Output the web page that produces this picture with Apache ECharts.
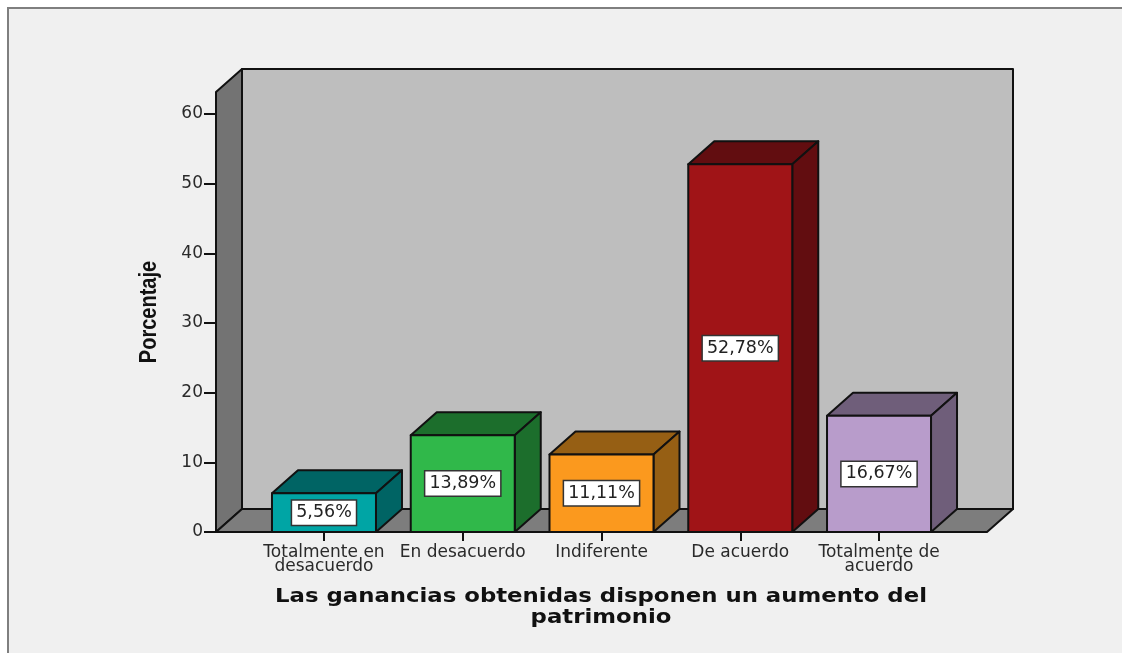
<!DOCTYPE html>
<html>
<head>
<meta charset="utf-8">
<title>Las ganancias obtenidas</title>
<style>
html, body { margin: 0; padding: 0; background: #fff; }
#chart { width: 1122px; height: 653px; }
</style>
<script src="https://cdn.jsdelivr.net/npm/echarts@6/dist/echarts.min.js"></script>
</head>
<body>
<div id="chart"></div>
<script>
const categories = ['Totalmente en\ndesacuerdo', 'En desacuerdo', 'Indiferente', 'De acuerdo', 'Totalmente de\nacuerdo']
const values = [5.56, 13.89, 11.11, 52.78, 16.67]
const frontColors = ['#00a5a5', '#30b84a', '#fb991e', '#a01417', '#b89ccb']
const darkColors = ['#006464', '#1c6e2c', '#965f14', '#620d10', '#6f5e7a']
const yTicks = [0, 10, 20, 30, 40, 50, 60]
const xTitle = 'Las ganancias obtenidas disponen un aumento del\npatrimonio'
const yTitle = 'Porcentaje'

const INK = '#111'
const DEPTH_X = 26
const DEPTH_Y = -23
const WALL_GAP = 38.6
const BAR_WIDTH = 104

function poly(points, fill) {
  return {
    type: 'polygon',
    shape: { points },
    style: { fill, stroke: INK, lineWidth: 2, lineJoin: 'round' },
  }
}

// paredes y suelo de la caja 3D
function renderWalls(params, api) {
  const band = api.size([1, 0])[0]
  const bottom = api.coord([0, 0])[1]
  const top = api.coord([0, 63.15])[1]
  const left = api.coord([0, 0])[0] - band / 2 - WALL_GAP
  const right = api.coord([4, 0])[0] + band / 2 + WALL_GAP
  const dx = DEPTH_X
  const dy = DEPTH_Y
  return {
    type: 'group',
    children: [
      poly([[left + dx, top + dy], [right + dx, top + dy], [right + dx, bottom + dy], [left + dx, bottom + dy]], '#bebebe'),
      poly([[left, bottom], [left, top], [left + dx, top + dy], [left + dx, bottom + dy]], '#737373'),
      poly([[left, bottom], [left + dx, bottom + dy], [right + dx, bottom + dy], [right, bottom]], '#7d7d7d'),
    ],
  }
}

function renderBar(params, api) {
  const i = api.value(0)
  const v = api.value(1)
  const [cx, y1] = api.coord([i, v])
  const y0 = api.coord([i, 0])[1]
  const x0 = cx - BAR_WIDTH / 2
  const x1 = cx + BAR_WIDTH / 2
  const dx = DEPTH_X
  const dy = DEPTH_Y
  return {
    type: 'group',
    children: [
      poly([[x0, y1], [x0 + dx, y1 + dy], [x1 + dx, y1 + dy], [x1, y1]], darkColors[i]),
      poly([[x1, y1], [x1 + dx, y1 + dy], [x1 + dx, y0 + dy], [x1, y0]], darkColors[i]),
      poly([[x0, y1], [x1, y1], [x1, y0], [x0, y0]], frontColors[i]),
      {
        type: 'text',
        style: {
          x: cx,
          y: (y0 + y1) / 2,
          text: v.toFixed(2).replace('.', ',') + '%',
          align: 'center',
          verticalAlign: 'middle',
          fontFamily: 'DejaVu Sans',
          fontSize: 17.5,
          fill: '#222',
          backgroundColor: '#fff',
          borderColor: '#333',
          borderWidth: 1.5,
          padding: [3, 4, 3, 4],
        },
      },
    ],
  }
}

const chart = echarts.init(document.getElementById('chart'))
chart.setOption({
  animation: false,
  backgroundColor: '#fff',
  graphic: [
    {
      type: 'rect',
      z: -10,
      shape: { x: 8, y: 8, width: 1300, height: 800 },
      style: { fill: '#f0f0f0', stroke: '#7f7f7f', lineWidth: 2 },
    },
    {
      // el original tiene el texto estirado a lo ancho
      type: 'text',
      x: 601,
      y: 608,
      scaleX: 1.2,
      style: {
        text: xTitle,
        align: 'center',
        verticalAlign: 'middle',
        fontFamily: 'DejaVu Sans',
        fontWeight: 'bold',
        fontSize: 19,
        lineHeight: 21,
        fill: '#111',
      },
    },
    {
      type: 'text',
      x: 150,
      y: 312,
      rotation: Math.PI / 2,
      scaleX: 0.87,
      style: {
        text: yTitle,
        align: 'center',
        verticalAlign: 'middle',
        fontFamily: 'Liberation Sans',
        fontWeight: 'bold',
        fontSize: 23,
        fill: '#111',
      },
    },
  ],
  grid: { left: 254.6, right: 173.6, top: 92, bottom: 121 },
  xAxis: {
    type: 'category',
    data: categories,
    axisLine: { show: false },
    axisTick: { show: true, alignWithLabel: true, length: 9, lineStyle: { color: INK, width: 2 } },
    axisLabel: { interval: 0, margin: 14, fontFamily: 'DejaVu Sans', fontSize: 17, lineHeight: 14, color: '#2a2a2a' },
  },
  yAxis: {
    type: 'value',
    min: 0,
    max: 63.15,
    offset: WALL_GAP,
    splitLine: { show: false },
    axisLine: { show: false },
    axisTick: { show: true, length: 12, customValues: yTicks, lineStyle: { color: INK, width: 2 } },
    axisLabel: { margin: 13, customValues: yTicks, fontFamily: 'DejaVu Sans', fontSize: 17, color: '#2a2a2a' },
  },
  series: [
    { type: 'custom', z: 1, clip: false, silent: true, data: [[0, 0]], renderItem: renderWalls },
    { type: 'custom', z: 2, clip: false, data: values.map((v, i) => [i, v]), encode: { x: 0, y: 1 }, renderItem: renderBar },
  ],
})
</script>
</body>
</html>
